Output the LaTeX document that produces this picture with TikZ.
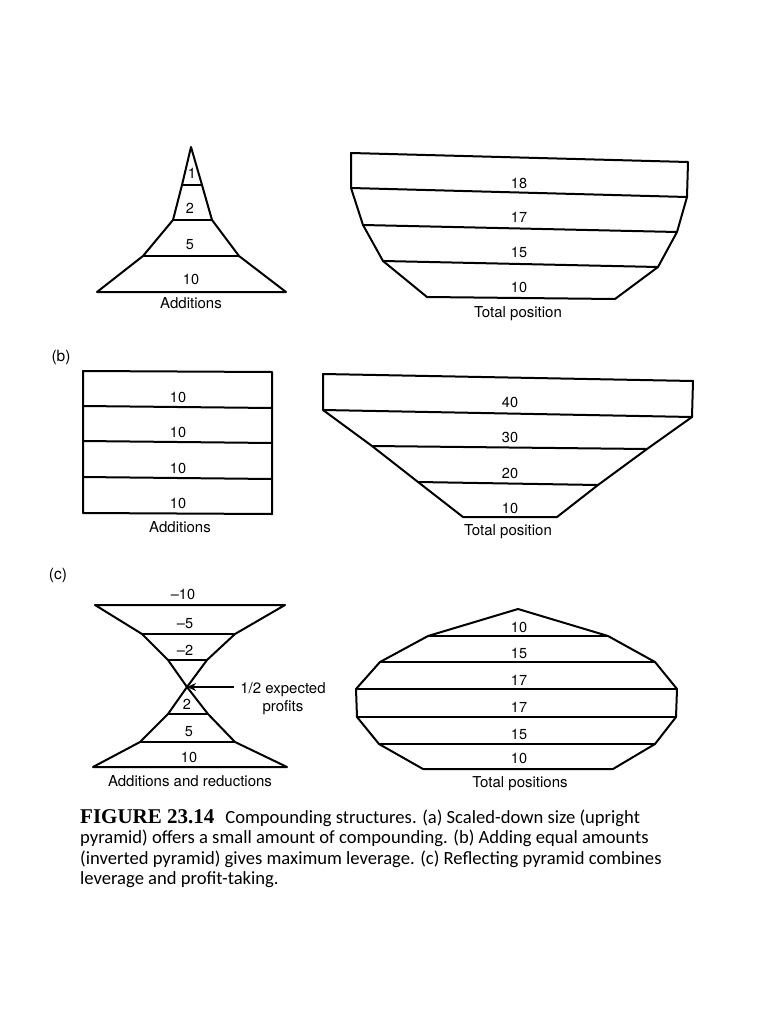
\documentclass[tikz,border=0pt]{standalone}
\usepackage{fontspec}
\setmainfont{Liberation Serif}
\setsansfont{TeX Gyre Heros}
\newfontfamily\capfont{Carlito}
\usetikzlibrary{arrows.meta,positioning,calc}

\begin{document}
\begin{tikzpicture}[x=1pt,y=-1pt,
    outline/.style={draw,line width=2pt,line join=round},
    band/.style={draw,line width=2pt},
    num/.style={font=\sffamily\fontsize{14.5}{15}\selectfont,inner sep=0pt,text depth=0pt},
    lbl/.style={font=\sffamily\fontsize{15}{17.5}\selectfont,inner sep=0pt,text depth=0pt},
    part/.style={font=\sffamily\fontsize{15.5}{15.5}\selectfont,inner sep=0pt},
    arrow/.style={-{Stealth[length=9pt,width=8pt]},line width=2pt},
    caption/.style={font=\capfont\fontsize{18.6}{20.5}\selectfont,inner sep=0pt,align=left}
  ]
  \useasboundingbox (0,0) rectangle (768,1024);

  % (a) upright pyramid
  \coordinate (aT) at (191,147);
  \coordinate (aL1) at (182,185); \coordinate (aR1) at (202,185);
  \coordinate (aL2) at (173,220); \coordinate (aR2) at (212,220);
  \coordinate (aL3) at (143,256); \coordinate (aR3) at (239,256);
  \coordinate (aL4) at (97,292);  \coordinate (aR4) at (286,292);
  \draw[outline] (aT) \foreach \i in {1,...,4}{-- (aR\i)} \foreach \i in {4,...,1}{-- (aL\i)} -- cycle;
  \foreach \i in {1,2,3}{\draw[band] (aL\i) -- (aR\i);}
  \node[num] (a1) at (192,173) {1};
  \node[num] (a2) at (190,208) {2};
  \node[num] (a5) at (190,244) {5};
  \node[num] (a10) at (191,279) {10};
  \node[lbl] (aadd) at (191,303) {Additions};

  % (a) total position
  \coordinate (pL0) at (351,153); \coordinate (pR0) at (688,162);
  \coordinate (pL1) at (351,188); \coordinate (pR1) at (687,197);
  \coordinate (pL2) at (363,225); \coordinate (pR2) at (677,232);
  \coordinate (pL3) at (383,261); \coordinate (pR3) at (658,267);
  \coordinate (pL4) at (427,297); \coordinate (pR4) at (615,299);
  \draw[outline] (pL0) \foreach \i in {0,...,4}{-- (pR\i)} \foreach \i in {4,...,1}{-- (pL\i)} -- cycle;
  \foreach \i in {1,2,3}{\draw[band] (pL\i) -- (pR\i);}
  \node[num] (p18) at (519,183) {18};
  \node[num] (p17) at (519,217) {17};
  \node[num] (p15) at (519,252) {15};
  \node[num] (p10) at (519,287) {10};
  \node[lbl] (ptot) at (518,312) {Total position};

  % (b) equal additions
  \node[part] (bmark) at (61,357) {(b)};
  \coordinate (bL0) at (83,371); \coordinate (bR0) at (272,372);
  \coordinate (bL1) at (83,406); \coordinate (bR1) at (272,408);
  \coordinate (bL2) at (83,441); \coordinate (bR2) at (272,443);
  \coordinate (bL3) at (83,477); \coordinate (bR3) at (272,479);
  \coordinate (bL4) at (83,513); \coordinate (bR4) at (272,514);
  \draw[outline] (bL0) \foreach \i in {0,...,4}{-- (bR\i)} \foreach \i in {4,...,1}{-- (bL\i)} -- cycle;
  \foreach \i in {1,2,3}{\draw[band] (bL\i) -- (bR\i);}
  \foreach \y [count=\k] in {397,432,468,503}{\node[num] (b\k) at (178,\y) {10};}
  \node[lbl] (badd) at (180,527) {Additions};

  % (b) inverted pyramid
  \coordinate (qL0) at (323,374); \coordinate (qR0) at (693,381);
  \coordinate (qL1) at (323,410); \coordinate (qR1) at (692,417);
  \coordinate (qL2) at (372,446); \coordinate (qR2) at (647,449);
  \coordinate (qL3) at (418,482); \coordinate (qR3) at (598,485);
  \coordinate (qL4) at (463,517); \coordinate (qR4) at (557,517);
  \draw[outline] (qL0) \foreach \i in {0,...,4}{-- (qR\i)} \foreach \i in {4,...,1}{-- (qL\i)} -- cycle;
  \foreach \i in {1,2,3}{\draw[band] (qL\i) -- (qR\i);}
  \node[num] (q40) at (510,402) {40};
  \node[num] (q30) at (510,437) {30};
  \node[num] (q20) at (510,473) {20};
  \node[num] (q10) at (510,508) {10};
  \node[lbl] (qtot) at (508,530) {Total position};

  % (c) reflecting pyramid
  \node[part] (cmark) at (58,575) {(c)};
  \coordinate (cL0) at (95,605);  \coordinate (cR0) at (285,605);
  \coordinate (cL1) at (142,634); \coordinate (cR1) at (235,634);
  \coordinate (cL2) at (168,660); \coordinate (cR2) at (207,660);
  \coordinate (cW) at (187,687);
  \coordinate (cL3) at (168,714); \coordinate (cR3) at (208,714);
  \coordinate (cL4) at (140,742); \coordinate (cR4) at (235,742);
  \coordinate (cL5) at (93,767);  \coordinate (cR5) at (287,767);
  \draw[outline] (cL0) -- (cR0) -- (cR1) -- (cR2) -- (cW) -- (cL2) -- (cL1) -- cycle;
  \draw[outline] (cW) -- (cR3) -- (cR4) -- (cR5) -- (cL5) -- (cL4) -- (cL3) -- cycle;
  \foreach \i in {1,...,4}{\draw[band] (cL\i) -- (cR\i);}
  \node[num] (cm10) at (183,594) {–10};
  \node[num] (cm5) at (185,623) {–5};
  \node[num] (cm2) at (185,650) {–2};
  \node[num] (c2) at (187,704) {2};
  \node[num] (c5) at (189,731) {5};
  \node[num] (c10) at (189,757) {10};
  \node[lbl] (cadd) at (190,781) {Additions and reductions};
  \node[lbl,align=center] (half) at (283,697) {1/2 expected\\profits};
  \draw[arrow] ([xshift=-6pt]half.west |- cW) -- (cW);

  % (c) total positions
  \coordinate (dT) at (518,609);
  \coordinate (dL1) at (428,636); \coordinate (dR1) at (608,636);
  \coordinate (dL2) at (380,662); \coordinate (dR2) at (655,662);
  \coordinate (dL3) at (356,689); \coordinate (dR3) at (677,689);
  \coordinate (dL4) at (357,717); \coordinate (dR4) at (676,717);
  \coordinate (dL5) at (379,744); \coordinate (dR5) at (655,744);
  \coordinate (dL6) at (423,769); \coordinate (dR6) at (613,769);
  \draw[outline] (dT) \foreach \i in {1,...,6}{-- (dR\i)} \foreach \i in {6,...,1}{-- (dL\i)} -- cycle;
  \foreach \i in {1,...,5}{\draw[band] (dL\i) -- (dR\i);}
  \foreach \v/\y [count=\k] in {10/627,15/653,17/680,17/707,15/734,10/758}{\node[num] (d\k) at (519,\y) {\v};}
  \node[lbl] (dtot) at (520,782) {Total positions};

  % caption
  \node[caption,anchor=north west] (cap) at (80,809)
    {{\rmfamily\bfseries\fontsize{21}{20.5}\selectfont FIGURE 23.14}\hspace{11pt}Compounding structures. (a) Scaled-down size (upright\\
     pyramid) offers a small amount of compounding. (b) Adding equal amounts\\
     (inverted pyramid) gives maximum leverage. (c) Reflecting pyramid combines\\
     leverage and profit-taking.};

\end{tikzpicture}
\end{document}
